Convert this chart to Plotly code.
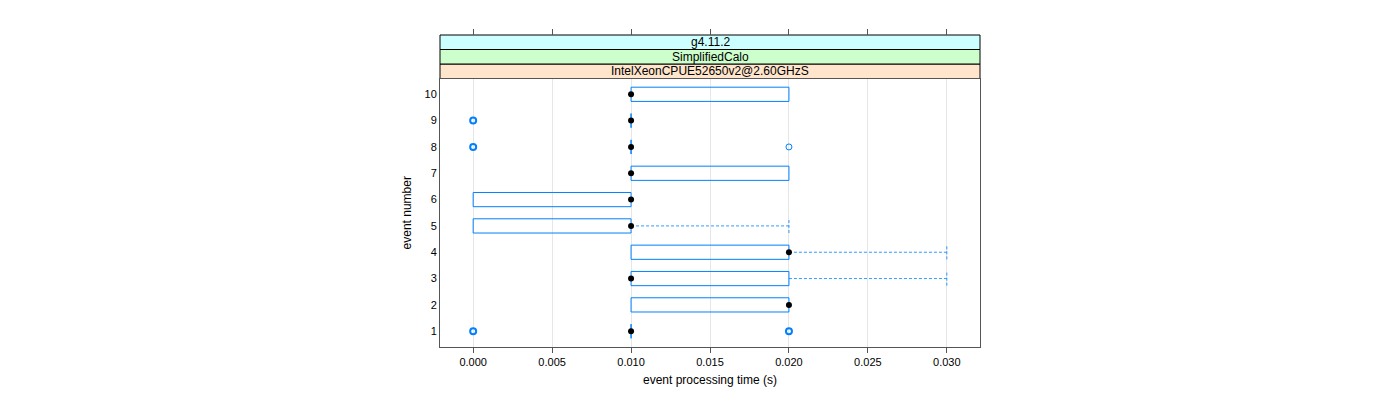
import plotly.graph_objects as go

# box statistics per event (seconds)
events = [1, 2, 3, 4, 5, 6, 7, 8, 9, 10]
q1 = [0.01, 0.01, 0.01, 0.01, 0.00, 0.00, 0.01, 0.01, 0.01, 0.01]
median = [0.01, 0.02, 0.01, 0.02, 0.01, 0.01, 0.01, 0.01, 0.01, 0.01]
q3 = [0.01, 0.02, 0.02, 0.02, 0.01, 0.01, 0.02, 0.01, 0.01, 0.02]
whisk_lo = [0.01, 0.01, 0.01, 0.01, 0.00, 0.00, 0.01, 0.01, 0.01, 0.01]
whisk_hi = [0.01, 0.02, 0.03, 0.03, 0.02, 0.01, 0.02, 0.01, 0.01, 0.02]
outliers = [[0.0, 0.0, 0.02, 0.02], [], [], [], [], [], [], [0.0, 0.0, 0.02], [0.0, 0.0], []]

strips = ["g4.11.2", "SimplifiedCalo", "IntelXeonCPUE52650v2@2.60GHzS"]
strip_cols = ["#ccffff", "#ccffcc", "#ffe5cc"]

blue = "#0080ff"
h = 0.27

box_x, box_y = [], []
wx, wy = [], []
for e, a, b, lo, hi in zip(events, q1, q3, whisk_lo, whisk_hi):
    box_x += [a, b, b, a, a, None]
    box_y += [e - h, e - h, e + h, e + h, e - h, None]
    if lo < a:
        wx += [lo, a, None, lo, lo, None]
        wy += [e, e, None, e - h, e + h, None]
    if hi > b:
        wx += [b, hi, None, hi, hi, None]
        wy += [e, e, None, e - h, e + h, None]

# outliers: overplotted points look heavier
ox, oy, ow = [], [], []
for e, pts in zip(events, outliers):
    for v in sorted(set(pts)):
        ox.append(v)
        oy.append(e)
        ow.append(2 if pts.count(v) > 1 else 1)

fig = go.Figure()
fig.add_trace(go.Scatter(x=wx, y=wy, mode='lines', line=dict(color=blue, width=1, dash='3px,2px'), opacity=0.8))
fig.add_trace(go.Scatter(x=box_x, y=box_y, mode='lines', line=dict(color=blue, width=1)))
fig.add_trace(go.Scatter(x=ox, y=oy, mode='markers',
                         marker=dict(symbol='circle-open', size=6, color=blue, line=dict(width=ow, color=blue))))
fig.add_trace(go.Scatter(x=median, y=events, mode='markers', marker=dict(color='black', size=6)))

ytop = 268.5 / 312
font = dict(family="Liberation Sans, Arial, sans-serif", size=12, color="black")
tickfont = dict(family="Liberation Sans, Arial, sans-serif", size=11, color="black")
xticks = [0.0, 0.005, 0.01, 0.015, 0.02, 0.025, 0.03]

# the html page has an 8px body margin, so margins are shifted by 8
fig.update_layout(
    width=1400, height=400, showlegend=False,
    paper_bgcolor='white', plot_bgcolor='white', font=font,
    margin=dict(l=432, r=428, t=27, b=61),
    xaxis=dict(range=[-0.0021, 0.0321], tickvals=xticks, ticktext=["%.3f" % v for v in xticks],
               ticks='outside', ticklen=5, tickcolor='#555', showgrid=True, gridcolor='#e6e6e6',
               showline=True, linecolor='#555', mirror=True, zeroline=False, tickfont=tickfont,
               title=dict(text="event processing time (s)", standoff=8, font=font)),
    xaxis2=dict(overlaying='x', matches='x', anchor='free', position=1, side='top',
                tickvals=xticks, ticks='outside', ticklen=6, tickcolor='#555',
                showticklabels=False, showgrid=False, showline=False, zeroline=False),
    yaxis=dict(domain=[0, ytop], range=[0.4, 10.6], tickvals=events, ticks='', showgrid=False,
               showline=True, linecolor='#555', mirror=True, zeroline=False, tickfont=tickfont,
               title=dict(text="event number", standoff=10, font=font)),
)
fig.add_trace(go.Scatter(x=[None], y=[None], xaxis='x2', showlegend=False))

sh = (1 - ytop) / 3
for i, (txt, col) in enumerate(zip(reversed(strips), reversed(strip_cols))):
    y0 = ytop + i * sh
    fig.add_shape(type='rect', xref='paper', yref='paper', x0=0, x1=1, y0=y0, y1=y0 + sh,
                  fillcolor=col, line=dict(color='black', width=1), layer='below')
    fig.add_annotation(text=txt, xref='paper', yref='paper', x=0.5, y=y0 + sh / 2,
                       showarrow=False, font=font, yanchor='middle')

fig.write_html("out.html")
